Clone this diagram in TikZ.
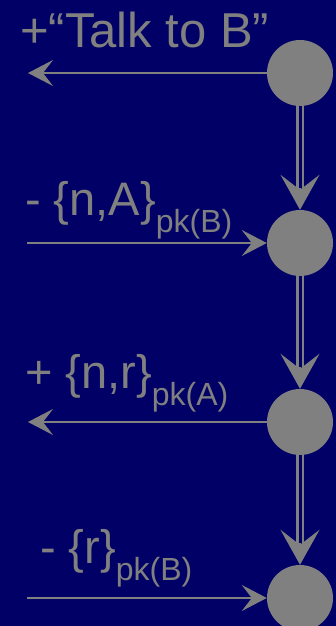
\documentclass[tikz,border=0pt]{standalone}
\usepackage{fontspec}
\setmainfont{Liberation Sans}
\usetikzlibrary{arrows.meta,calc}
\definecolor{bgnavy}{RGB}{0,0,102}
\definecolor{fg}{RGB}{128,128,128}
\tikzset{
  evt/.style={circle,fill=fg,draw=none,minimum size=66pt,inner sep=0pt},
  msg/.style={draw=fg,line width=2pt,-{Stealth[length=25pt,width=26pt,inset=10pt]}},
  dblshaft/.style={draw=fg,line width=2.5pt,double=bgnavy,double distance=3pt},
  headonly/.style={draw=fg,line width=2pt,-{Stealth[length=35pt,width=39pt,inset=15pt]}},
  lbl/.style={text=fg,anchor=base west,inner sep=0pt,font=\fontsize{47}{47}\selectfont},
}
\newcommand{\pksub}[1]{{\fontsize{32}{32}\selectfont\raisebox{-17pt}{#1}}}
\begin{document}
\begin{tikzpicture}[x=1pt,y=-1pt]
\fill[bgnavy] (0,0) rectangle (336,626);
\useasboundingbox (0,0) rectangle (336,626);
\node[evt] (c1) at (300,73) {};
\node[evt] (c2) at (300,243) {};
\node[evt] (c3) at (300,422) {};
\node[evt] (c4) at (300,598) {};
\coordinate (o1) at (28,73);
\coordinate (i2) at (27,243);
\coordinate (o3) at (28,422);
\coordinate (i4) at (27,598);
\draw[msg] (c1.west) -- (o1);
\draw[msg] (i2) -- (c2.west);
\draw[msg] (c3.west) -- (o3);
\draw[msg] (i4) -- (c4.west);
\draw[dblshaft] (c1.south) -- ($(c2.north)+(0,-20)$);
\draw[headonly] ($(c2.north)+(0,-22)$) -- (c2.north);
\draw[dblshaft] (c2.south) -- ($(c3.north)+(0,-20)$);
\draw[headonly] ($(c3.north)+(0,-22)$) -- (c3.north);
\draw[dblshaft] (c3.south) -- ($(c4.north)+(0,-20)$);
\draw[headonly] ($(c4.north)+(0,-22)$) -- (c4.north);
\node[lbl,font=\fontsize{49}{49}\selectfont] (l1) at (20,48) {+“Talk to B”};
\node[lbl] (l2) at (25,215) {- \{n,A\}\pksub{pk(B)}};
\node[lbl] (l3) at (25,388) {+ \{n,r\}\pksub{pk(A)}};
\node[lbl] (l4) at (40,563) {- \{r\}\pksub{pk(B)}};
\end{tikzpicture}
\end{document}
